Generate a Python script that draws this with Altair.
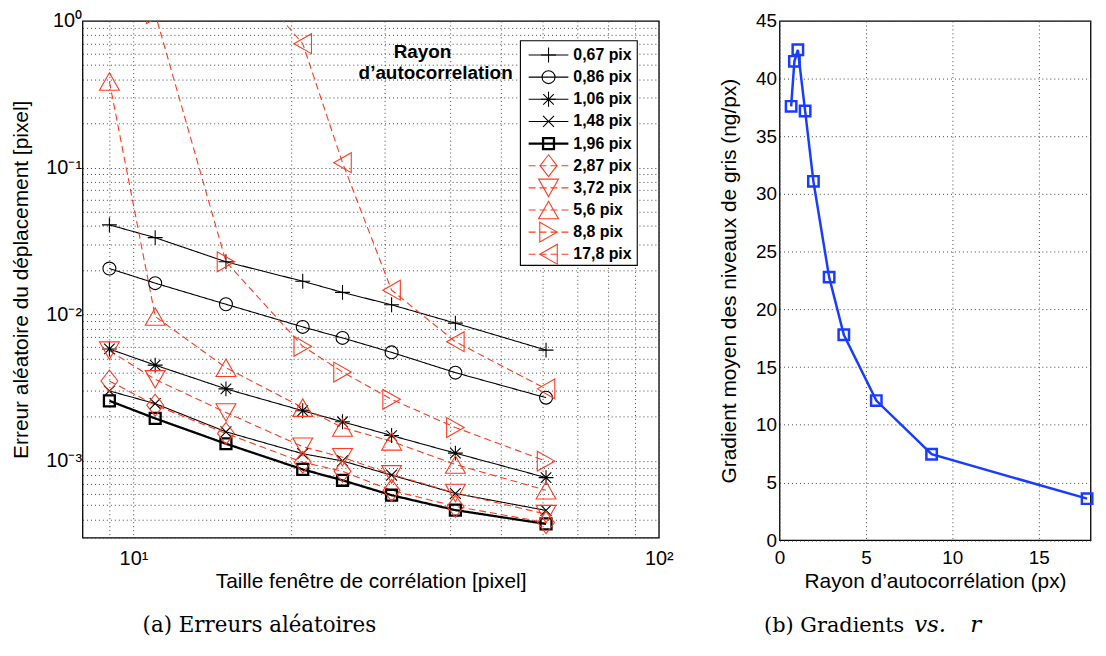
import altair as alt
import pandas as pd

# ---------------- panel (a) data ----------------
windows = [9, 11, 15, 21, 25, 31, 41, 61]
series_labels = ["0,67 pix", "0,86 pix", "1,06 pix", "1,48 pix", "1,96 pix",
                 "2,87 pix", "3,72 pix", "5,6 pix", "8,8 pix", "17,8 pix"]
err_067 = [0.0407, 0.0333, 0.0228, 0.0168, 0.0141, 0.0116, 0.0087, 0.0057]
err_086 = [0.0205, 0.0163, 0.0117, 0.0082, 0.0069, 0.0055, 0.0040, 0.0027]
err_106 = [0.0058, 0.0045, 0.0031, 0.0022, 0.00185, 0.00149, 0.00113, 0.00077]
err_148 = [0.0030, 0.00246, 0.00158, 0.00112, 0.00100, 0.00080, 0.00060, 0.00046]
err_196 = [0.00257, 0.00195, 0.00131, 0.000875, 0.000738, 0.000584, 0.000462, 0.000372]
err_287 = [0.00351, 0.0024, 0.00154, 0.00098, 0.00085, 0.00063, 0.00049, 0.00038]
err_372 = [0.00565, 0.0036, 0.00214, 0.00125, 0.00106, 0.00081, 0.000605, 0.000434]
err_560 = [0.386, 0.00966, 0.00432, 0.00231, 0.00169, 0.00136, 0.000946, 0.000631]
err_880 = [2.5, 1.12, 0.0228, 0.00605, 0.00404, 0.00263, 0.00169, 0.000997]
err_1780 = [30.0, 10.0, 2.8, 0.70, 0.108, 0.0146, 0.0065, 0.0031]
all_err = [err_067, err_086, err_106, err_148, err_196,
           err_287, err_372, err_560, err_880, err_1780]

note_lines = ["Rayon", "d\u2019autocorrelation"]
note_x = [35.5, 37.6]
note_y = [0.617, 0.44]

# ---------------- panel (b) data ----------------
radius = [0.67, 0.86, 1.06, 1.48, 1.96, 2.87, 3.72, 5.6, 8.8, 17.8]
gradient = [37.6, 41.5, 42.5, 37.2, 31.1, 22.8, 17.8, 12.1, 7.45, 3.6]

caption_a = "(a) Erreurs aléatoires"
caption_b1 = "(b) Gradients"
caption_b2 = "vs."
caption_b3 = "r"

# ---------------- styles ----------------
RED = "#ff3a1f"
BLUE = "#1a3cff"
FONT = "Liberation Sans"
SERIF = "DejaVu Serif"

PLUS = "M-0.75,0H0.75M0,-0.75V0.75"
CIRCLE = "M-0.65,0A0.65,0.65,0,1,0,0.65,0A0.65,0.65,0,1,0,-0.65,0Z"
STAR = "M-0.75,0H0.75M0,-0.75V0.75M-0.53,-0.53L0.53,0.53M-0.53,0.53L0.53,-0.53"
XMARK = "M-0.55,-0.55L0.55,0.55M-0.55,0.55L0.55,-0.55"
SQUARE = "M-0.55,-0.55H0.55V0.55H-0.55Z"
DIAMOND = "M0,-1.1L0.85,0L0,1.1L-0.85,0Z"
TRI_DOWN = "M0,0.88L1,-0.88H-1Z"
TRI_UP = "M0,-0.88L1,0.88H-1Z"
TRI_RIGHT = "M0.88,0L-0.88,-1L-0.88,1Z"
TRI_LEFT = "M-0.88,0L0.88,-1L0.88,1Z"

series_colors = ["black"] * 5 + [RED] * 5
series_dash = [[1, 0]] * 5 + [[7, 4]] * 5
series_width = [1.1, 1.1, 1.1, 1.1, 2.3, 1.1, 1.1, 1.1, 1.1, 1.1]
series_shapes = [PLUS, CIRCLE, STAR, XMARK, SQUARE,
                 DIAMOND, TRI_DOWN, TRI_UP, TRI_RIGHT, TRI_LEFT]

rows = []
for lab, vals, lw in zip(series_labels, all_err, series_width):
    for w, v in zip(windows, vals):
        rows.append({"serie": lab, "fenetre": w, "erreur": v, "lw": lw})
df_a = pd.DataFrame(rows)

color_enc = alt.Color("serie:N", scale=alt.Scale(domain=series_labels, range=series_colors), legend=None)
dash_enc = alt.StrokeDash("serie:N", scale=alt.Scale(domain=series_labels, range=series_dash), legend=None)
shape_enc = alt.Shape("serie:N", scale=alt.Scale(domain=series_labels, range=series_shapes), legend=None)
lw_enc = alt.StrokeWidth("lw:Q", scale=None, legend=None)

grid_x_a = [9, 10, 20, 30, 40, 50, 60, 70, 80, 90, 100]
grid_y_a = [round(k * 10.0 ** e, 8) for e in range(-4, 0) for k in range(1, 10)]
grid_y_a = [v for v in grid_y_a if v >= 3e-4] + [1]

lab_x_a = ("abs(datum.value-10)<1e-6 ? '10\u00b9' : abs(datum.value-100)<1e-6 ? '10\u00b2' : ''")
lab_y_a = ("abs(datum.value-1)<1e-9 ? '10\u2070' : abs(datum.value-0.1)<1e-9 ? '10\u207b\u00b9' : "
           "abs(datum.value-0.01)<1e-10 ? '10\u207b\u00b2' : abs(datum.value-0.001)<1e-11 ? '10\u207b\u00b3' : ''")

W_A, H_A = 580, 520
W_B, H_B = 313, 522.6
TITLE_FS = 21
LABEL_FS = 19

x_a = alt.X("fenetre:Q",
            scale=alt.Scale(type="log", domain=[8, 100], nice=False),
            axis=alt.Axis(values=grid_x_a, labelExpr=lab_x_a, title="Taille fenêtre de corrélation [pixel]",
                          titleY=44.3, titleBaseline="middle", labelPadding=11, labelFontSize=20))
y_a = alt.Y("erreur:Q",
            scale=alt.Scale(type="log", domain=[3e-4, 1], nice=False),
            axis=alt.Axis(values=grid_y_a, labelExpr=lab_y_a, title="Erreur aléatoire du déplacement [pixel]",
                          titleX=-61.5, titleY=H_A / 2, titleAngle=270, titleBaseline="middle",
                          titleAlign="center", labelPadding=1, labelFontSize=20))

base_a = alt.Chart(df_a)
lines_a = base_a.mark_line(clip=True).encode(
    x=x_a, y=y_a, color=color_enc, strokeDash=dash_enc, strokeWidth=lw_enc, detail="serie:N")
points_a = base_a.mark_point(clip=True, filled=False, size=400, opacity=1).encode(
    x=x_a, y=y_a, color=color_enc, shape=shape_enc, strokeWidth=lw_enc)

note_df = pd.DataFrame({"txt": note_lines, "fenetre": note_x, "erreur": note_y})
note = alt.Chart(note_df).mark_text(font=FONT, fontSize=19, fontWeight="bold", align="center",
                                    baseline="middle", color="black").encode(
    x=x_a, y=y_a, text="txt:N")

main_a = alt.layer(lines_a, points_a, note)

# legend (built from the same style scales)
leg_df = pd.DataFrame({"serie": series_labels, "lw": series_width})
leg_y = alt.Y("serie:N", scale=alt.Scale(type="point", domain=series_labels, range=[34.3, 234.8], padding=0),
              axis=None)
leg_box = alt.Chart(pd.DataFrame({"k": [0]})).mark_rect(fill="white", stroke="black", strokeWidth=1.1).encode(
    x=alt.value(440.7), x2=alt.value(558.3), y=alt.value(20), y2=alt.value(246))
leg_lines = alt.Chart(leg_df).mark_rule().encode(
    x=alt.value(449), x2=alt.value(489), y=leg_y, color=color_enc, strokeDash=dash_enc, strokeWidth=lw_enc)
leg_pts = alt.Chart(leg_df).mark_point(filled=False, size=400, opacity=1).encode(
    x=alt.value(469), y=leg_y, color=color_enc, shape=shape_enc, strokeWidth=lw_enc)
leg_txt = alt.Chart(leg_df).mark_text(align="left", baseline="middle", fontWeight="bold", fontSize=16,
                                      font=FONT, color="black").encode(
    x=alt.value(494), y=leg_y, text="serie:N")
legend_a = alt.layer(leg_box, leg_lines, leg_pts, leg_txt)

cap_a = alt.Chart(pd.DataFrame({"t": [caption_a]})).mark_text(
    font=SERIF, fontSize=21.5, align="center", baseline="alphabetic", color="black").encode(
    text="t:N", x=alt.value(178), y=alt.value(615.3))

left = alt.layer(main_a, legend_a, cap_a).resolve_scale(y="independent").properties(width=W_A, height=H_A)

# ---------------- panel (b) ----------------
df_b = pd.DataFrame({"rayon": radius, "gradient": gradient})
x_b = alt.X("rayon:Q", scale=alt.Scale(domain=[0, 18], nice=False),
            axis=alt.Axis(values=[0, 5, 10, 15], title="Rayon d\u2019autocorrélation (px)",
                          titleY=42, titleBaseline="middle", labelPadding=8))
y_b = alt.Y("gradient:Q", scale=alt.Scale(domain=[0, 45], nice=False),
            axis=alt.Axis(values=list(range(0, 50, 5)), title="Gradient moyen des niveaux de gris (ng/px)",
                          titleX=-50.5, titleY=H_B / 2, titleAngle=270, titleBaseline="middle",
                          titleAlign="center", labelPadding=3))
base_b = alt.Chart(df_b)
line_b = base_b.mark_line(color=BLUE, strokeWidth=2.5).encode(x=x_b, y=y_b)
pts_b = base_b.mark_point(shape="square", size=110, filled=False, color=BLUE, strokeWidth=2.5,
                          opacity=1).encode(x=x_b, y=y_b)
cap_b1_m = alt.Chart(pd.DataFrame({"t": [caption_b1]})).mark_text(
    font=SERIF, fontSize=21, align="right", baseline="alphabetic", color="black").encode(
    text="t:N", x=alt.value(125.5), y=alt.value(615.3))
cap_b2_m = alt.Chart(pd.DataFrame({"t": [caption_b2]})).mark_text(
    font=SERIF, fontSize=23, fontStyle="italic", align="left", baseline="alphabetic", color="black").encode(
    text="t:N", x=alt.value(135.5), y=alt.value(615.3))
cap_b3_m = alt.Chart(pd.DataFrame({"t": [caption_b3]})).mark_text(
    font=SERIF, fontSize=23, fontStyle="italic", align="left", baseline="alphabetic", color="black").encode(
    text="t:N", x=alt.value(192), y=alt.value(615.3))

right = alt.layer(line_b, pts_b, cap_b1_m, cap_b2_m, cap_b3_m).properties(width=W_B, height=H_B)

chart = alt.hconcat(left, right, spacing=121.5, bounds="flush").properties(
    padding={"left": 1, "top": 0, "right": 0, "bottom": 0}
).configure_view(
    stroke="black", strokeWidth=1.3
).configure_axis(
    labelFont=FONT, labelFontSize=LABEL_FS, labelColor="black",
    titleFont=FONT, titleFontSize=TITLE_FS, titleFontWeight="normal", titleColor="black",
    grid=True, gridColor="#444", gridDash=[1, 3], gridWidth=1,
    ticks=False, domain=False, labelFlush=False, labelOverlap=False
)

chart.save("out.html", embed_options={"renderer": "svg", "actions": False})
